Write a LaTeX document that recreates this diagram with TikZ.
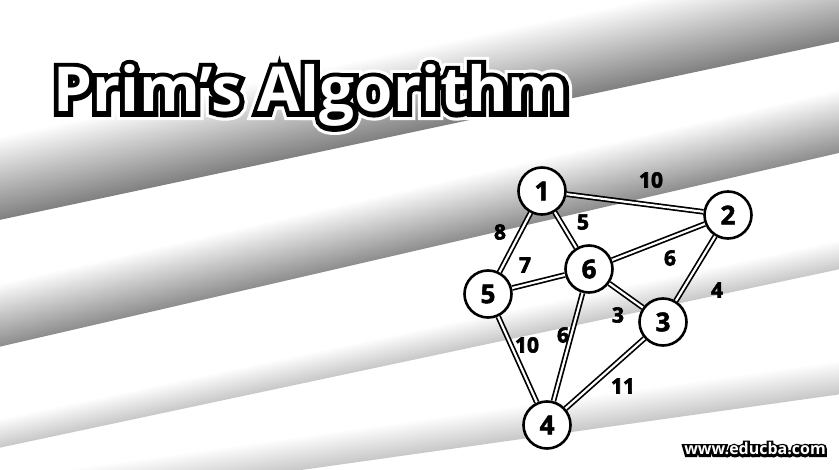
\documentclass[tikz,border=0pt]{standalone}
\usepackage{fontspec}
\setmainfont{Open Sans}
\newfontfamily\titlehalofont[BoldFeatures={FakeBold=26}]{Open Sans}
\newfontfamily\titleedgefont[BoldFeatures={FakeBold=16}]{Open Sans}
\newfontfamily\siteedgefont[BoldFeatures={FakeBold=28}]{Open Sans}
\newfontfamily\wfont[BoldFeatures={FakeBold=3}]{Open Sans}
\newfontfamily\vfont[BoldFeatures={FakeBold=2}]{Open Sans}
\tikzset{
  vertex/.style={circle, draw=black, line width=2.6pt, fill=white, minimum size=47pt, inner sep=0pt,
    font=\vfont\fontsize{26}{26}\selectfont\bfseries},
  edge/.style={draw=black, line width=1.7pt, double=white, double distance=2.2pt},
  wlabel/.style={inner sep=0pt, font=\wfont\fontsize{21}{21}\selectfont\bfseries},
  band/.style={bottom color=black!#1, top color=white, draw=none},
  titletext/.style={anchor=base west, inner sep=0pt},
  sitetext/.style={anchor=base east, inner sep=0pt},
}
\begin{document}
\begin{tikzpicture}[x=1pt, y=-1pt]
\useasboundingbox (0,0) rectangle (839,470);
\fill[white] (0,0) rectangle (839,470);
\begin{scope}
\clip (0,0) rectangle (839,470);
% background bands
\begin{scope}[transform canvas={rotate around={12:(0,136)}}]
  \shade[band=50] (-200,136) rectangle (1300,218);
\end{scope}
\begin{scope}[transform canvas={rotate around={13:(0,283)}}]
  \shade[band=45] (-200,283) rectangle (1300,345);
\end{scope}
\begin{scope}[transform canvas={rotate around={12:(0,418)}}]
  \shade[band=22] (-200,418) rectangle (1300,447);
\end{scope}
\begin{scope}[transform canvas={rotate around={8:(0,478)}}]
  \shade[band=22] (-200,478) rectangle (1300,512);
\end{scope}
\end{scope}

% title: white halo, black outline, white letters
\node[titletext, text=white] (titlehalo) at (53,112)
  {\titlehalofont\fontsize{62}{62}\selectfont\bfseries Prim’s Algorithm};
\node[titletext, text=black] (titleedge) at (53,112)
  {\titleedgefont\fontsize{62}{62}\selectfont\bfseries Prim’s Algorithm};
\node[titletext, text=white] (title) at (53,112)
  {\fontsize{62}{62}\selectfont\bfseries Prim’s Algorithm};

% vertices
\node[vertex] (n1) at (542,191) {1};
\node[vertex] (n2) at (728,215) {2};
\node[vertex] (n6) at (589,269) {6};
\node[vertex] (n5) at (488,294) {5};
\node[vertex] (n3) at (663,322) {3};
\node[vertex] (n4) at (547,425) {4};

% edges
\draw[edge] (n1) -- (n2);
\draw[edge] (n1) -- (n6);
\draw[edge] (n1) -- (n5);
\draw[edge] (n5) -- (n6);
\draw[edge] (n6) -- (n2);
\draw[edge] (n6) -- (n3);
\draw[edge] (n2) -- (n3);
\draw[edge] (n5) -- (n4);
\draw[edge] (n6) -- (n4);
\draw[edge] (n3) -- (n4);

% weights
\node[wlabel] (w12) at (651,180) {10};
\node[wlabel] (w16) at (583,222) {5};
\node[wlabel] (w15) at (500,232) {8};
\node[wlabel] (w56) at (525,265) {7};
\node[wlabel] (w62) at (670,258) {6};
\node[wlabel] (w23) at (717,290) {4};
\node[wlabel] (w63) at (618,315) {3};
\node[wlabel] (w64) at (563,335) {6};
\node[wlabel] (w54) at (527,345) {10};
\node[wlabel] (w34) at (623,386) {11};

% watermark
\node[sitetext, text=black] (siteedge) at (826,455)
  {\siteedgefont\fontsize{16}{16}\selectfont\bfseries www.educba.com};
\node[sitetext, text=white] (site) at (826,455)
  {\fontsize{16}{16}\selectfont\bfseries www.educba.com};
\end{tikzpicture}
\end{document}
